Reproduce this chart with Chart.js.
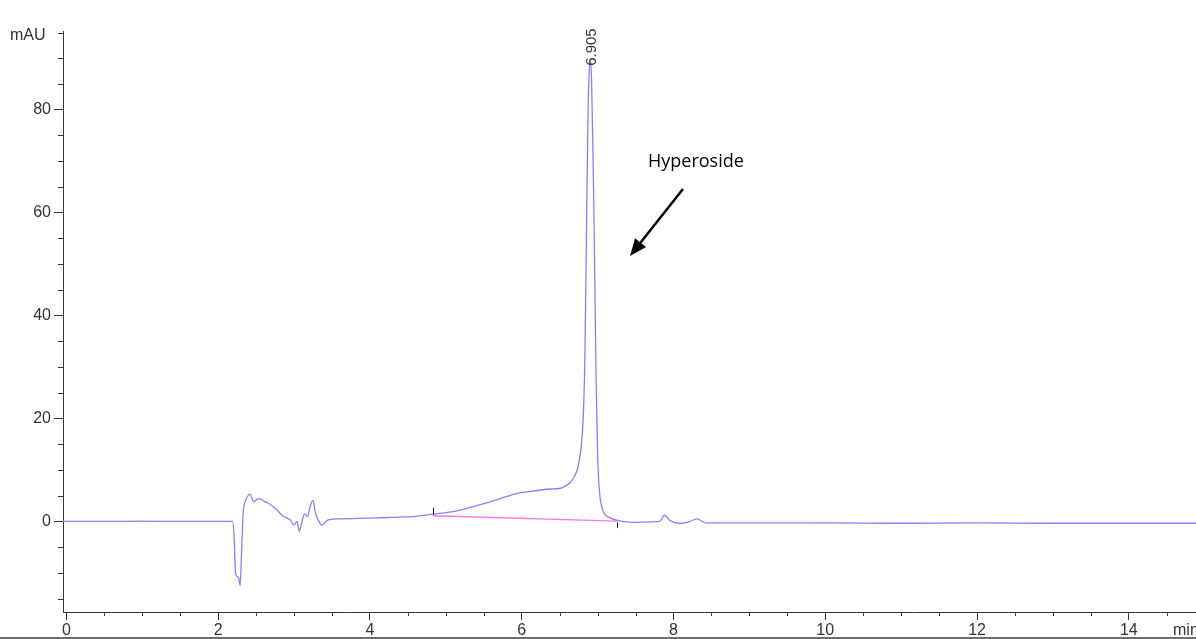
<!DOCTYPE html>
<html>
<head>
<meta charset="utf-8">
<script src="https://cdn.jsdelivr.net/npm/chart.js@4.4.1/dist/chart.umd.min.js"></script>
<style>
  html, body { margin: 0; padding: 0; background: #fff; overflow: hidden; }
  #wrap { width: 1196px; height: 639px; position: relative; }
</style>
</head>
<body>
<div id="wrap"><canvas id="chromatogram" width="1196" height="639"></canvas></div>
<script>
// retention time (min) and detector signal (mAU)
var times = [-0.05, 0, 0.5, 1.0, 1.5, 2.0, 2.19, 2.21, 2.23, 2.25, 2.27, 2.29, 2.31, 2.33, 2.36, 2.38,
  2.42, 2.47, 2.51, 2.55, 2.62, 2.68, 2.77, 2.86, 2.95, 3.0, 3.04, 3.07, 3.10, 3.14, 3.18, 3.21,
  3.25, 3.28, 3.32, 3.37, 3.45, 3.61, 3.87, 4.1, 4.39, 4.6, 4.83, 5.05, 5.27, 5.49, 5.71, 5.93,
  6.15, 6.37, 6.5, 6.58, 6.64, 6.69, 6.74, 6.78, 6.81, 6.83, 6.845, 6.86, 6.875, 6.89, 6.905,
  6.92, 6.935, 6.95, 6.965, 6.98, 7.0, 7.03, 7.06, 7.1, 7.18, 7.26, 7.46, 7.7, 7.82, 7.88, 7.95,
  8.08, 8.2, 8.31, 8.38, 8.43, 9, 10, 11, 12, 13, 14, 14.9];
var signal = [0, 0, 0, 0.05, 0, 0, 0, -2.9, -10, -10.7, -11, -12.4, -5.5, 1.5, 4, 4.7,
  5.3, 3.8, 4.3, 4.4, 3.8, 3.4, 2.3, 1.0, 0.3, -0.7, 0, -2.0, -0.4, 1.5, 0.9, 2.8,
  4.1, 1.8, 0.2, -0.7, 0.3, 0.5, 0.6, 0.7, 0.85, 1.0, 1.4, 1.8, 2.5, 3.4, 4.4, 5.4,
  5.9, 6.3, 6.4, 6.9, 7.6, 8.6, 10.5, 14, 20, 30, 45, 64, 80, 87.5, 89.5,
  86, 75, 62, 45, 28, 13, 5, 2.6, 1.3, 0.6, 0.2, -0.2, -0.1, 0, 1.2, 0.2,
  -0.4, -0.1, 0.5, 0, -0.3, -0.3, -0.3, -0.35, -0.3, -0.35, -0.35, -0.35];

// integration baseline under the main peak
var baseTimes = [4.83, 7.26];
var baseSignal = [1.1, 0.05];

var peakTime = 6.905;
var peakLabel = '6.905';
var peakName = 'Hyperoside';

var xMajor = [0, 2, 4, 6, 8, 10, 12, 14];
var yMajor = [0, 20, 40, 60, 80];
var xMinorStep = 0.5;
var yMinorStep = 5;

var axisColor = '#383838';
var textColor = '#333333';
var labelFont = '"Liberation Sans", Arial, sans-serif';

function toPoints(xs, ys) {
    var pts = [];
    for (var i = 0; i < xs.length; i++) {
        pts.push({x: xs[i], y: ys[i]});
    }
    return pts;
}

var extras = {
    id: 'extras',
    beforeDraw: function (chart) {
        var ctx = chart.ctx;
        ctx.save();
        ctx.fillStyle = '#fff';
        ctx.fillRect(0, 0, chart.width, chart.height);
        ctx.restore();
    },
    afterDraw: function (chart) {
        var ctx = chart.ctx;
        var xs = chart.scales.x, ys = chart.scales.y;
        var area = chart.chartArea;
        ctx.save();

        // minor ticks
        ctx.strokeStyle = axisColor;
        ctx.lineWidth = 1;
        ctx.beginPath();
        for (var t = 0; t <= xs.max; t += xMinorStep) {
            if (xMajor.indexOf(t) >= 0) continue;
            var px = Math.round(xs.getPixelForValue(t)) + 0.5;
            ctx.moveTo(px, area.bottom);
            ctx.lineTo(px, area.bottom + 4);
        }
        for (var v = -15; v <= ys.max; v += yMinorStep) {
            if (yMajor.indexOf(v) >= 0) continue;
            var py = Math.round(ys.getPixelForValue(v)) + 0.5;
            ctx.moveTo(area.left - 5, py);
            ctx.lineTo(area.left, py);
        }
        ctx.stroke();

        // integration markers
        ctx.strokeStyle = '#222';
        ctx.beginPath();
        var bx0 = Math.round(xs.getPixelForValue(baseTimes[0])) + 0.5;
        var by0 = ys.getPixelForValue(baseSignal[0]);
        ctx.moveTo(bx0, by0 - 8);
        ctx.lineTo(bx0, by0 - 1);
        var bx1 = Math.round(xs.getPixelForValue(baseTimes[1])) + 0.5;
        var by1 = ys.getPixelForValue(baseSignal[1]);
        ctx.moveTo(bx1, by1 + 1);
        ctx.lineTo(bx1, by1 + 7);
        ctx.stroke();

        // axis titles
        ctx.fillStyle = textColor;
        ctx.font = '16px ' + labelFont;
        ctx.textBaseline = 'middle';
        ctx.textAlign = 'left';
        ctx.fillText('mAU', 10, 36);
        ctx.fillText('min', 1173, 631);

        // retention time label above the peak
        var pkx = xs.getPixelForValue(peakTime);
        var pky = ys.getPixelForValue(89.5);
        ctx.save();
        ctx.translate(pkx + 1, pky + 5);
        ctx.rotate(-Math.PI / 2);
        ctx.font = '15px ' + labelFont;
        ctx.textAlign = 'left';
        ctx.textBaseline = 'middle';
        ctx.fillText(peakLabel, 0, 0);
        ctx.restore();

        // compound annotation with arrow
        ctx.fillStyle = '#000';
        ctx.font = '18px "Open Sans", "Noto Sans", sans-serif';
        ctx.textAlign = 'left';
        ctx.textBaseline = 'alphabetic';
        ctx.fillText(peakName, 648, 167);

        var ax0 = 683, ay0 = 189, ax1 = 630, ay1 = 256;
        var ang = Math.atan2(ay1 - ay0, ax1 - ax0);
        ctx.strokeStyle = '#000';
        ctx.lineWidth = 2.5;
        ctx.beginPath();
        ctx.moveTo(ax0, ay0);
        ctx.lineTo(ax1 - 12 * Math.cos(ang), ay1 - 12 * Math.sin(ang));
        ctx.stroke();
        ctx.fillStyle = '#000';
        ctx.beginPath();
        ctx.moveTo(ax1, ay1);
        ctx.lineTo(ax1 - 17 * Math.cos(ang) + 7 * Math.sin(ang), ay1 - 17 * Math.sin(ang) - 7 * Math.cos(ang));
        ctx.lineTo(ax1 - 17 * Math.cos(ang) - 7 * Math.sin(ang), ay1 - 17 * Math.sin(ang) + 7 * Math.cos(ang));
        ctx.closePath();
        ctx.fill();

        // frame line at the bottom of the picture
        ctx.fillStyle = '#6e6e6e';
        ctx.fillRect(0, 637, chart.width, 2);
        ctx.restore();
    }
};

var ctx = document.getElementById('chromatogram');
var chart = new Chart(ctx, {
    type: 'line',
    data: {
        datasets: [{
            label: 'signal',
            data: toPoints(times, signal),
            borderColor: 'rgb(130, 130, 255)',
            borderWidth: 1.3,
            pointRadius: 0,
            cubicInterpolationMode: 'monotone',
            fill: false,
            order: 1
        }, {
            label: 'baseline',
            data: toPoints(baseTimes, baseSignal),
            borderColor: 'rgb(255, 120, 225)',
            borderWidth: 1.3,
            pointRadius: 0,
            fill: false,
            order: 2
        }]
    },
    options: {
        responsive: false,
        animation: false,
        events: [],
        layout: {padding: {top: 31, right: 0, left: 0, bottom: 0}},
        plugins: {legend: {display: false}, tooltip: {enabled: false}},
        scales: {
            x: {
                type: 'linear',
                min: -0.044,
                max: 14.885,
                afterBuildTicks: function (scale) {
                    scale.ticks = xMajor.map(function (v) { return {value: v}; });
                },
                afterFit: function (scale) { scale.height = 27; },
                border: {display: true, color: axisColor, width: 1},
                grid: {drawOnChartArea: false, drawTicks: true, tickLength: 8, color: axisColor},
                ticks: {
                    color: textColor,
                    padding: 1,
                    maxRotation: 0,
                    autoSkip: false,
                    font: {family: labelFont, size: 16}
                }
            },
            y: {
                type: 'linear',
                min: -17.6,
                max: 95.3,
                afterBuildTicks: function (scale) {
                    scale.ticks = yMajor.map(function (v) { return {value: v}; });
                },
                afterFit: function (scale) { scale.width = 63; },
                border: {display: true, color: axisColor, width: 1},
                grid: {drawOnChartArea: false, drawTicks: true, tickLength: 9, color: axisColor},
                ticks: {
                    color: textColor,
                    padding: 3,
                    autoSkip: false,
                    font: {family: labelFont, size: 16}
                }
            }
        }
    },
    plugins: [extras]
});
</script>
</body>
</html>
